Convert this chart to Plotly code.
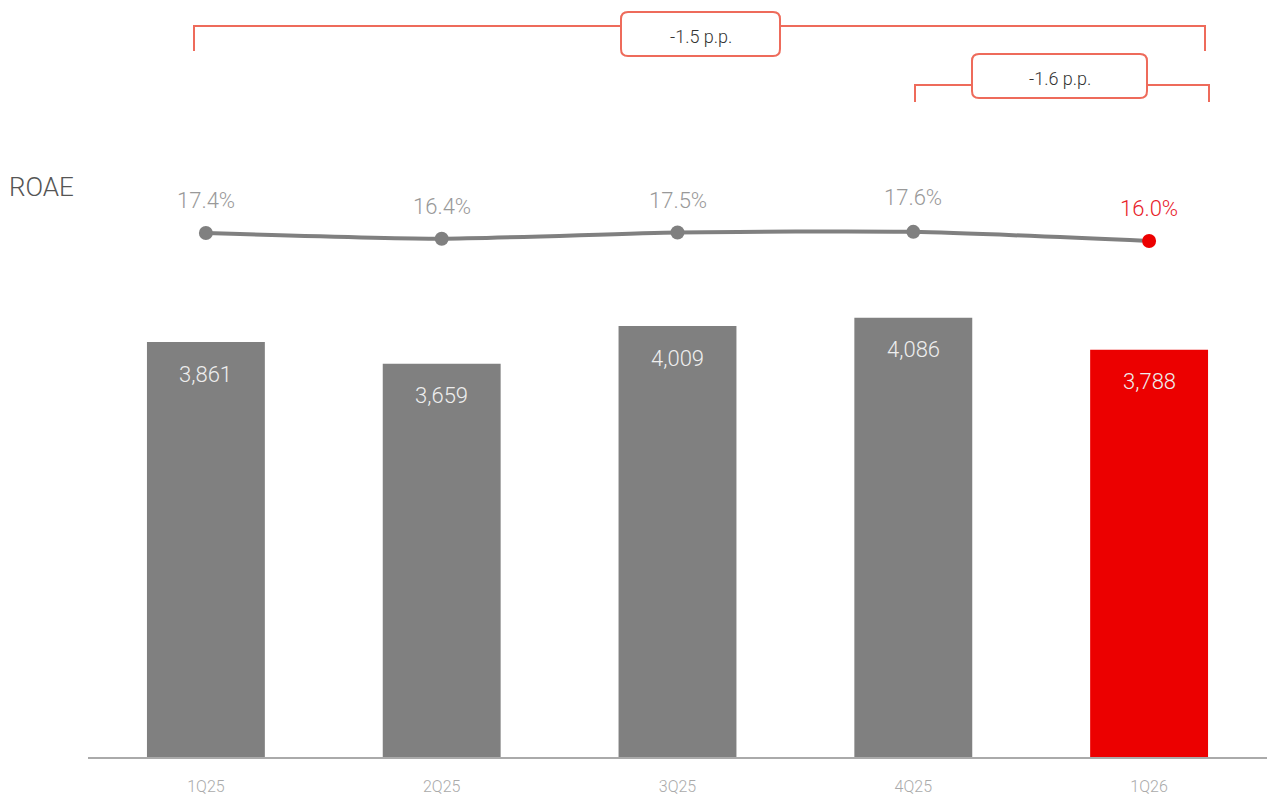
import plotly.graph_objects as go

quarters = ["1Q25", "2Q25", "3Q25", "4Q25", "1Q26"]
profit = [3861, 3659, 4009, 4086, 3788]
roae = [17.4, 16.4, 17.5, 17.6, 16.0]
profit_labels = ["3,861", "3,659", "4,009", "4,086", "3,788"]
roae_labels = ["17.4%", "16.4%", "17.5%", "17.6%", "16.0%"]
roae_label_shift = [33, 32, 32, 34, 33]
bracket_texts = ["-1.5 p.p.", "-1.6 p.p."]

GRAY = "#808080"
RED = "#ec0000"
SALMON = "#ee6b5b"
FONT = "Roboto"

W, H = 1267, 795
L, B, T = 88, 38, 0
PW, PH = W - L, H - B - T

def px(x):
    return (x - L) / PW

def py(y):
    return (H - B - y) / PH

bar_colors = [GRAY] * (len(quarters) - 1) + [RED]

fig = go.Figure()
fig.add_trace(go.Bar(
    x=quarters, y=profit, marker=dict(color=bar_colors, line=dict(width=0)),
    width=0.5, hoverinfo="skip", yaxis="y",
))
fig.add_trace(go.Scatter(
    x=quarters, y=roae, mode="lines+markers", yaxis="y2",
    line=dict(color=GRAY, width=4, shape="spline", smoothing=0.6),
    marker=dict(size=14, color=bar_colors), hoverinfo="skip",
))

ann = []
for q, v, t, c in zip(quarters, profit, profit_labels, bar_colors):
    ann.append(dict(x=q, y=v, xref="x", yref="y", text=t, showarrow=False,
                    xanchor="center", yanchor="middle",
                    yshift=-32, font=dict(family=FONT, size=22, color="#eeeeee", weight=300)))
for i, (q, v, t) in enumerate(zip(quarters, roae, roae_labels)):
    col = "#e8222a" if i == len(quarters) - 1 else "#999999"
    ann.append(dict(x=q, y=v, xref="x", yref="y2", text=t, showarrow=False,
                    xanchor="center", yanchor="middle",
                    yshift=roae_label_shift[i], font=dict(family=FONT, size=22, color=col, weight=300)))
ann.append(dict(x=px(7), y=py(187), xref="paper", yref="paper", text="ROAE", showarrow=False,
                xanchor="left", yanchor="middle",
                font=dict(family=FONT, size=26, color="#555555", weight=300)))

shapes = []

def rounded_box(x0, y0, x1, y1, r=7):
    X0, X1 = px(x0), px(x1)
    Y0, Y1 = py(y0), py(y1)  # Y0 top (higher), Y1 bottom
    rx, ry = r / PW, r / PH
    path = (f"M {X0+rx},{Y0} L {X1-rx},{Y0} Q {X1},{Y0} {X1},{Y0-ry} "
            f"L {X1},{Y1+ry} Q {X1},{Y1} {X1-rx},{Y1} L {X0+rx},{Y1} "
            f"Q {X0},{Y1} {X0},{Y1+ry} L {X0},{Y0-ry} Q {X0},{Y0} {X0+rx},{Y0} Z")
    return dict(type="path", path=path, xref="paper", yref="paper",
                line=dict(color=SALMON, width=2), fillcolor="white", layer="above")

def bracket(x0, x1, y, ybot):
    path = f"M {px(x0)},{py(ybot)} L {px(x0)},{py(y)} L {px(x1)},{py(y)} L {px(x1)},{py(ybot)}"
    return dict(type="path", path=path, xref="paper", yref="paper",
                line=dict(color=SALMON, width=2), layer="above")

shapes.append(bracket(194, 1205, 26, 51))
shapes.append(rounded_box(621, 12, 780, 56))
shapes.append(bracket(915, 1209, 85, 102))
shapes.append(rounded_box(972, 54, 1147, 98))

ann.append(dict(x=px(700.5), y=py(36), xref="paper", yref="paper", text=bracket_texts[0],
                xanchor="center", yanchor="middle",
                showarrow=False, font=dict(family=FONT, size=18, color="#333333", weight=300)))
ann.append(dict(x=px(1059.5), y=py(79), xref="paper", yref="paper", text=bracket_texts[1],
                xanchor="center", yanchor="middle",
                showarrow=False, font=dict(family=FONT, size=18, color="#333333", weight=300)))

ymax = PH / ((757 - 342) / 3861)
y2_ppu = 8 / 1.4
y2_lo = 16.0 - (757 - 241) / y2_ppu
y2_hi = 17.4 + (233 - T) / y2_ppu

fig.update_layout(
    width=W, height=H, margin=dict(l=L, r=0, t=T, b=B, pad=0, autoexpand=False),
    paper_bgcolor="white", plot_bgcolor="white", showlegend=False,
    font=dict(family=FONT),
    bargap=0.5,
    xaxis=dict(type="category", range=[-0.5, 4.5], showgrid=False, zeroline=False,
               showline=True, linecolor="#aaaaaa", linewidth=2, ticks="",
               ticklabelstandoff=14, automargin=False,
               tickfont=dict(family=FONT, size=16, color="#aaaaaa", weight=300)),
    yaxis=dict(range=[0, ymax], visible=False, showgrid=False, zeroline=False, automargin=False),
    yaxis2=dict(range=[y2_lo, y2_hi], overlaying="y", visible=False, showgrid=False,
                zeroline=False, automargin=False),
    annotations=ann, shapes=shapes,
)

fig.write_html("out.html")
